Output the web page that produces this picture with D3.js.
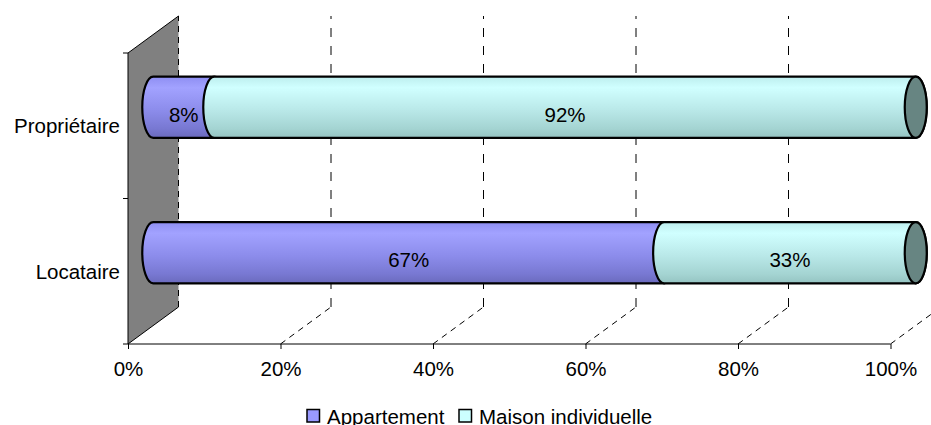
<!DOCTYPE html>
<html><head><meta charset="utf-8">
<script src="https://cdn.jsdelivr.net/npm/d3@7"></script>
<style>body{margin:0;background:#fff}svg{display:block;font-family:"Liberation Sans",Arial,sans-serif}</style>
</head><body>
<script>
const categories = ["Propriétaire", "Locataire"];
const seriesNames = ["Appartement", "Maison individuelle"];
const appartement = [8, 67];
const maison = [92, 33];
const tickValues = [0, 20, 40, 60, 80, 100];
const tickLabels = ["0%", "20%", "40%", "60%", "80%", "100%"];

const W = 931, H = 425;
const svg = d3.select("body").append("svg").attr("width", W).attr("height", H);
const defs = svg.append("defs");

const x = d3.scaleLinear().domain([0, 100]).range([128, 890.5]);
const y = d3.scaleBand().domain(categories).range([53, 344]).paddingInner(0).paddingOuter(0);
const DX = 50.5, DY = -37; // depth offset (front -> back)
const fs = 20.5;

function grad(id, stops) {
  const g = defs.append("linearGradient").attr("id", id).attr("x1", 0).attr("y1", 0).attr("x2", 0).attr("y2", 1);
  stops.forEach(s => g.append("stop").attr("offset", s[0]).attr("stop-color", s[1]));
}
grad("gA", [[0, "#8e8ef2"], [0.18, "#a2a2ff"], [0.55, "#8c8ceb"], [0.85, "#7878d2"], [1, "#6a6abd"]]);
grad("gM", [[0, "#bdeeee"], [0.18, "#d0ffff"], [0.55, "#b9e8e8"], [0.85, "#a4d4d2"], [1, "#95c4c2"]]);
const fills = ["url(#gA)", "url(#gM)"];
const legendFills = ["#9999ff", "#ccffff"];

// left wall
const x0 = x(0), yTop = y.range()[0], yBot = y.range()[1];
svg.append("path")
  .attr("d", `M${x0},${yTop}L${x0 + DX},${yTop + DY}L${x0 + DX},${yBot + DY}L${x0},${yBot}Z`)
  .attr("fill", "#808080").attr("stroke", "none");
svg.append("path")
  .attr("d", `M${x0},${yBot}L${x0},${yTop}L${x0 + DX},${yTop + DY}`)
  .attr("fill", "none").attr("stroke", "#000").attr("stroke-width", 1);
svg.append("path")
  .attr("d", `M${x0},${yBot}L${x0 + DX},${yBot + DY}`)
  .attr("fill", "none").attr("stroke", "#000").attr("stroke-width", 1);

// gridlines (back wall + floor)
const grid = svg.append("g").attr("stroke", "#000").attr("stroke-width", 1).attr("stroke-dasharray", "6,5").attr("fill", "none");
tickValues.forEach(v => {
  const xf = x(v);
  grid.append("path").attr("d", `M${xf + DX},${yBot + DY}L${xf + DX},${yTop + DY}`)
    .attr("stroke-dasharray", v === 0 ? "6,5" : "9,9");
  if (v > 0) grid.append("path").attr("d", `M${xf},${yBot}L${xf + DX},${yBot + DY}`);
});

// bottom axis
const ax = svg.append("g").attr("transform", `translate(0,${yBot})`)
  .call(d3.axisBottom(x).tickValues(tickValues).tickSize(5).tickPadding(12)
    .tickFormat((d, i) => tickLabels[i]));
ax.select(".domain").attr("stroke", "#000").attr("d", `M${x(0)},0H${x(100)}`);
ax.selectAll("text").attr("font-size", fs).attr("font-family", "Liberation Sans, Arial, sans-serif").attr("fill", "#000");

// left axis ticks + labels
const la = svg.append("g");
[yTop, y(categories[1]), yBot].forEach(t => {
  la.append("line").attr("x1", x0 - 5).attr("x2", x0).attr("y1", t).attr("y2", t).attr("stroke", "#000");
});
categories.forEach(c => {
  la.append("text").attr("x", x0 - 8).attr("y", y(c) + y.bandwidth() / 2)
    .attr("text-anchor", "end").attr("dominant-baseline", "central")
    .attr("font-size", fs).attr("fill", "#000").text(c);
});

// cylinders
const barH = y.bandwidth() * 0.42;
const ry = barH / 2, rx = 11;
const bars = svg.append("g");
categories.forEach((c, i) => {
  const cy = y(c) + y.bandwidth() / 2 + DY / 2;
  const top = cy - ry, bot = cy + ry;
  const vals = [appartement[i], maison[i]];
  let acc = 0;
  const segs = vals.map((v, k) => { const s = { k, v, a: acc, b: acc + v }; acc += v; return s; });
  segs.forEach(s => {
    const xa = x(s.a) + DX / 2, xb = x(s.b) + DX / 2;
    bars.append("path")
      .attr("d", `M${xa},${top}L${xb},${top}A${rx},${ry} 0 0 1 ${xb},${bot}L${xa},${bot}A${rx},${ry} 0 0 1 ${xa},${top}Z`)
      .attr("fill", fills[s.k]).attr("stroke", "#000").attr("stroke-width", 2.2);
  });
  const xe = x(acc) + DX / 2;
  bars.append("ellipse").attr("cx", xe).attr("cy", cy).attr("rx", rx).attr("ry", ry)
    .attr("fill", "#678582").attr("stroke", "#000").attr("stroke-width", 2.2);
  segs.forEach(s => {
    const xm = x((s.a + s.b) / 2) + DX / 2;
    bars.append("text").attr("x", xm).attr("y", cy + 7)
      .attr("text-anchor", "middle").attr("dominant-baseline", "central")
      .attr("font-size", fs).attr("fill", "#000").text(s.v + "%");
  });
});

// legend
const lg = svg.append("g");
const legendX = [307, 459];
seriesNames.forEach((n, k) => {
  lg.append("rect").attr("x", legendX[k]).attr("y", 409.5).attr("width", 12.5).attr("height", 12.5)
    .attr("fill", legendFills[k]).attr("stroke", "#000").attr("stroke-width", 1.5);
  lg.append("text").attr("x", legendX[k] + 20).attr("y", 416).attr("dominant-baseline", "central")
    .attr("font-size", fs).attr("fill", "#000").text(n);
});
</script>
</body></html>
